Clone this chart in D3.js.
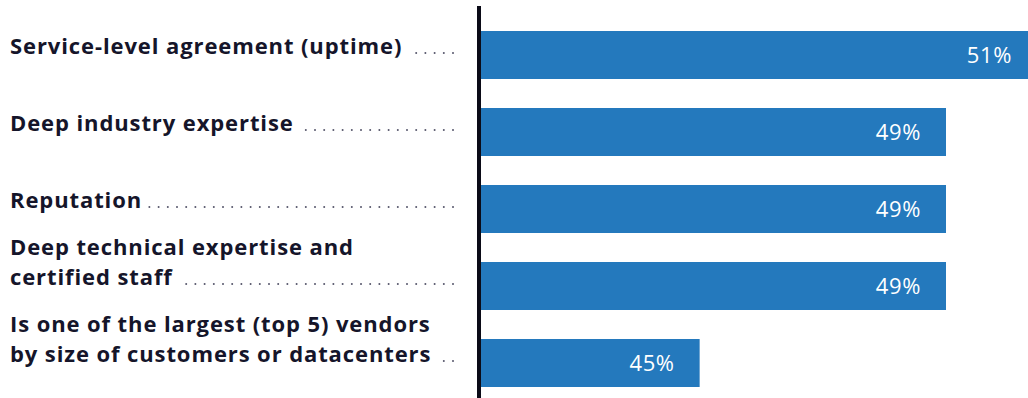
<!DOCTYPE html>
<html>
<head>
<meta charset="utf-8">
<script src="https://cdn.jsdelivr.net/npm/d3@7"></script>
<style>
  html, body { margin: 0; padding: 0; background: #ffffff; }
  svg { display: block; }
</style>
</head>
<body>
<svg id="chart" width="1028" height="398"></svg>
<script>
// Reasons for choosing a provider, share of respondents (%)
const categories = [
  "Service-level agreement (uptime)",
  "Deep industry expertise",
  "Reputation",
  "Deep technical expertise and certified staff",
  "Is one of the largest (top 5) vendors by size of customers or datacenters"
];
const labelLines = [
  ["Service-level agreement (uptime)"],
  ["Deep industry expertise"],
  ["Reputation"],
  ["Deep technical expertise and", "certified staff"],
  ["Is one of the largest (top 5) vendors", "by size of customers or datacenters"]
];
const values = [51, 49, 49, 49, 45];

const W = 1028, H = 398;
const svg = d3.select("#chart");
const FONT = "'Open Sans', Lato, sans-serif";

const x = d3.scaleLinear().domain([41.45, 49]).range([481, 946]);
const y = d3.scaleBand()
  .domain(categories)
  .range([31, 387])
  .paddingInner(29 / 77)
  .paddingOuter(0);

const data = categories.map((c, i) => ({ cat: c, lines: labelLines[i], value: values[i] }));

// bars
svg.append("g").selectAll("rect").data(data).join("rect")
  .attr("x", x.range()[0])
  .attr("y", d => y(d.cat))
  .attr("width", d => x(d.value) - x.range()[0])
  .attr("height", y.bandwidth())
  .attr("fill", "#2479bd");

// value labels inside the bars
svg.append("g").selectAll("text").data(data).join("text")
  .attr("x", d => Math.min(x(d.value) - 25, W - 16))
  .attr("y", d => y(d.cat) + y.bandwidth() / 2 + 7.5)
  .attr("text-anchor", "end")
  .attr("fill", "#ffffff")
  .attr("font-family", FONT)
  .attr("font-size", 22)
  .attr("letter-spacing", 0.6)
  .text(d => d.value + "%");

// category labels with dot leaders
const lineH = 30;
const labels = svg.append("g");
data.forEach(d => {
  const cy = y(d.cat) + y.bandwidth() / 2;
  const lastBase = cy - 1;
  const n = d.lines.length;
  let lastEnd = 0;
  d.lines.forEach((ln, j) => {
    const t = labels.append("text")
      .attr("x", 10)
      .attr("y", lastBase - (n - 1 - j) * lineH)
      .attr("fill", "#15152a")
      .attr("font-family", FONT)
      .attr("font-weight", 700)
      .attr("font-size", 22)
      .attr("letter-spacing", 0.9)
      .text(ln);
    if (j === n - 1) lastEnd = 10 + t.node().getComputedTextLength();
  });
  const dots = [];
  for (let px = 453; px > lastEnd + 5; px -= 9.2) dots.push(px);
  labels.append("g").selectAll("circle").data(dots).join("circle")
    .attr("cx", p => p)
    .attr("cy", lastBase - 1)
    .attr("r", 1)
    .attr("fill", "#55556a");
});

// vertical baseline axis
svg.append("line")
  .attr("x1", 479).attr("x2", 479)
  .attr("y1", 6).attr("y2", H)
  .attr("stroke", "#0b0b17")
  .attr("stroke-width", 4);
</script>
</body>
</html>
